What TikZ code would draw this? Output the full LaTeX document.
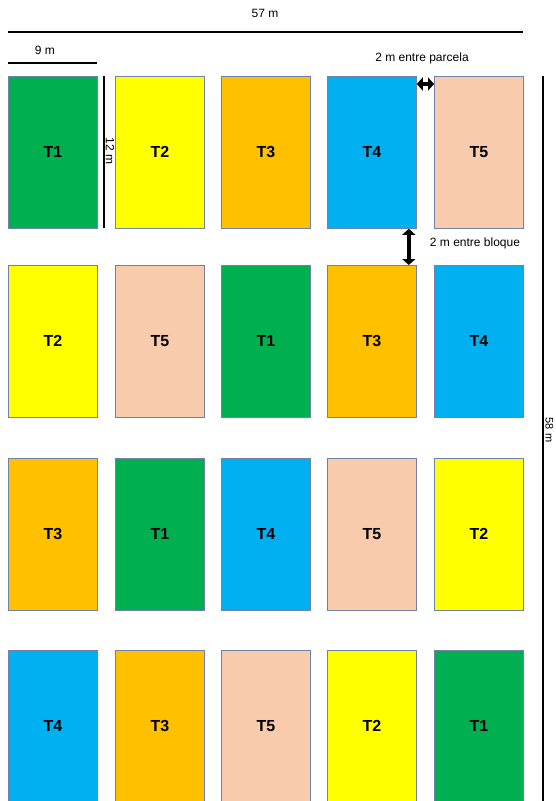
\documentclass[tikz,border=0pt]{standalone}
\usepackage{fontspec}
\setmainfont{Liberation Sans}
\usetikzlibrary{arrows.meta,calc}
\definecolor{cA}{HTML}{00B050}
\definecolor{cB}{HTML}{FFFF00}
\definecolor{cC}{HTML}{FFC000}
\definecolor{cD}{HTML}{00B0F0}
\definecolor{cE}{HTML}{F8CBAD}
\definecolor{edgec}{HTML}{6F82A8}
\tikzset{
  plot/.style={draw=edgec, line width=0.8pt, minimum width=89pt, minimum height=152pt, anchor=north west, inner sep=0pt, font=\fontsize{16}{18}\selectfont\bfseries},
  dimline/.style={line width=1.6pt, black},
  dimtext/.style={font=\fontsize{12}{14}\selectfont, inner sep=1pt},
  dimarrow/.style={line width=3.6pt, {Triangle[width=13pt,length=6pt]}-{Triangle[width=13pt,length=6pt]}},
}
\begin{document}
\begin{tikzpicture}[x=1pt,y=-1pt]
\useasboundingbox (0,0) rectangle (555,801);
\clip (0,0) rectangle (555,801);
\fill[white] (0,0) rectangle (555,801);
% plots
\foreach \r/\y in {1/76,2/265,3/458,4/650}{
  \foreach \c/\x in {1/8,2/115,3/221,4/327,5/434}{
    \coordinate (o\r\c) at (\x,\y);
  }
}
\node[plot, fill=cA] (p11) at (o11) {T1};
\node[plot, fill=cB] (p12) at (o12) {T2};
\node[plot, fill=cC] (p13) at (o13) {T3};
\node[plot, fill=cD] (p14) at (o14) {T4};
\node[plot, fill=cE] (p15) at (o15) {T5};
\node[plot, fill=cB] (p21) at (o21) {T2};
\node[plot, fill=cE] (p22) at (o22) {T5};
\node[plot, fill=cA] (p23) at (o23) {T1};
\node[plot, fill=cC] (p24) at (o24) {T3};
\node[plot, fill=cD] (p25) at (o25) {T4};
\node[plot, fill=cC] (p31) at (o31) {T3};
\node[plot, fill=cA] (p32) at (o32) {T1};
\node[plot, fill=cD] (p33) at (o33) {T4};
\node[plot, fill=cE] (p34) at (o34) {T5};
\node[plot, fill=cB] (p35) at (o35) {T2};
\node[plot, fill=cD] (p41) at (o41) {T4};
\node[plot, fill=cC] (p42) at (o42) {T3};
\node[plot, fill=cE] (p43) at (o43) {T5};
\node[plot, fill=cB] (p44) at (o44) {T2};
\node[plot, fill=cA] (p45) at (o45) {T1};
% 57 m
\coordinate (tl) at (8,32);
\coordinate (tr) at (523,32);
\draw[dimline] (tl) -- (tr);
\node[dimtext] (t57) at (265,13) {57 m};
% 9 m
\coordinate (nl) at (8,63);
\coordinate (nr) at (97,63);
\draw[dimline] (nl) -- (nr);
\node[dimtext] (t9) at (45,50) {9 m};
% 12 m
\coordinate (dt) at (104,76);
\coordinate (db) at (104,228);
\draw[dimline, line width=1.3pt] (dt) -- (db);
\node[dimtext, rotate=-90] (t12) at (110,151) {12 m};
% 58 m
\coordinate (rt) at (543,76);
\coordinate (rb) at (543,801);
\draw[dimline, line width=1.3pt] (rt) -- (rb);
\node[font=\fontsize{11}{13}\selectfont, inner sep=0pt, rotate=-90, anchor=base] (t58) at (545.5,430) {58 m};
% 2 m entre parcela
\draw[dimarrow] ([yshift=-8pt]p14.north east) -- ([yshift=-8pt]p15.north west);
\node[dimtext] (tpar) at (422,58) {2 m entre parcela};
% 2 m entre bloque
\draw[dimarrow] ([xshift=-8pt]p14.south east) -- ([xshift=-8pt]p24.north east);
\node[dimtext] (tblo) at (475,243) {2 m entre bloque};
\end{tikzpicture}
\end{document}
